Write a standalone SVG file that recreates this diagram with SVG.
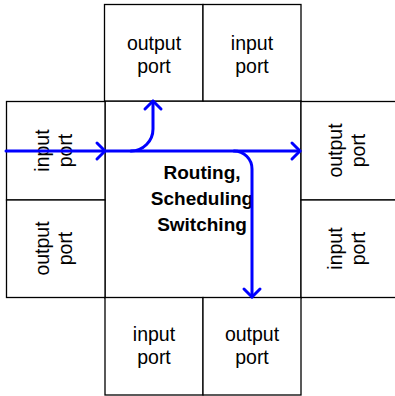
<svg xmlns="http://www.w3.org/2000/svg" width="395" height="396" viewBox="0 0 395 396">
  <style>
    .box { fill: #fff; stroke: #000; stroke-width: 1.3; }
    .port { font-family: "Liberation Sans", Arial, Helvetica, sans-serif; font-size: 19.5px; fill: #000; text-anchor: middle; }
    .core { font-family: "Liberation Sans", Arial, Helvetica, sans-serif; font-size: 19px; font-weight: bold; fill: #000; text-anchor: middle; }
    .flow { fill: none; stroke: #0000ff; stroke-width: 3; stroke-linecap: round; stroke-linejoin: round; }
  </style>
  <rect width="395" height="396" fill="#fff"/>

  <!-- switching fabric -->
  <g id="fabric">
    <rect class="box" x="105" y="101" width="196" height="197"/>
    <text class="core" x="202" y="179">Routing,</text>
    <text class="core" x="202" y="205">Scheduling</text>
    <text class="core" x="202" y="231">Switching</text>
  </g>

  <!-- top ports -->
  <g id="top-output">
    <rect class="box" x="104.5" y="4.5" width="98.5" height="96.5"/>
    <text class="port" x="154" y="50">output</text>
    <text class="port" x="154" y="73">port</text>
  </g>
  <g id="top-input">
    <rect class="box" x="203" y="4.5" width="98" height="96.5"/>
    <text class="port" x="252" y="50">input</text>
    <text class="port" x="252" y="73">port</text>
  </g>

  <!-- left ports -->
  <g id="left-input">
    <rect class="box" x="6.5" y="101.5" width="98.5" height="98.5"/>
    <g transform="rotate(-90 55.5 150.5)">
      <text class="port" x="55.5" y="144">input</text>
      <text class="port" x="55.5" y="167">port</text>
    </g>
  </g>
  <g id="left-output">
    <rect class="box" x="6.5" y="200" width="98.5" height="97.5"/>
    <g transform="rotate(-90 55.5 248.5)">
      <text class="port" x="55.5" y="242">output</text>
      <text class="port" x="55.5" y="265">port</text>
    </g>
  </g>

  <!-- right ports -->
  <g id="right-output">
    <rect class="box" x="301" y="101.5" width="100" height="98.5"/>
    <g transform="rotate(-90 348 150.5)">
      <text class="port" x="348" y="144">output</text>
      <text class="port" x="348" y="167">port</text>
    </g>
  </g>
  <g id="right-input">
    <rect class="box" x="301" y="200" width="100" height="97.5"/>
    <g transform="rotate(-90 348 248.5)">
      <text class="port" x="348" y="242">input</text>
      <text class="port" x="348" y="265">port</text>
    </g>
  </g>

  <!-- bottom ports -->
  <g id="bottom-input">
    <rect class="box" x="105" y="297.5" width="98" height="97.5"/>
    <text class="port" x="154" y="341">input</text>
    <text class="port" x="154" y="364">port</text>
  </g>
  <g id="bottom-output">
    <rect class="box" x="203" y="297.5" width="98" height="97.5"/>
    <text class="port" x="252" y="341">output</text>
    <text class="port" x="252" y="364">port</text>
  </g>

  <!-- packet flows -->
  <g id="connectors">
    <path class="flow" d="M 6 151 H 300"/>
    <path class="flow" d="M 97 143 L 105 151 L 97 159"/>
    <path class="flow" d="M 292 143 L 300 151 L 292 159"/>
    <path class="flow" d="M 131 151 A 22 22 0 0 0 153 129 V 101"/>
    <path class="flow" d="M 145 109 L 153 101 L 161 109"/>
    <path class="flow" d="M 234 151 A 18 18 0 0 1 252 169 V 297"/>
    <path class="flow" d="M 244 289 L 252 297 L 260 289"/>
  </g>
</svg>
